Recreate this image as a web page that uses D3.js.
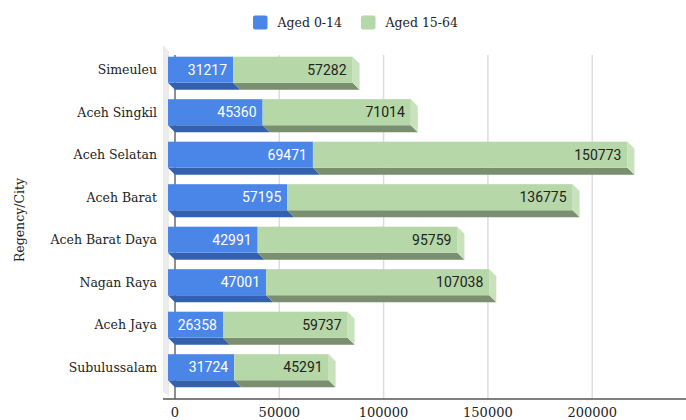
<!DOCTYPE html>
<html>
<head>
<meta charset="utf-8">
<script src="https://cdn.jsdelivr.net/npm/d3@7"></script>
<style>
  html, body { margin: 0; padding: 0; background: #fff; }
  svg { display: block; }
</style>
</head>
<body>
<svg id="chart" width="686" height="420"></svg>
<script>
const categories = ["Simeuleu", "Aceh Singkil", "Aceh Selatan", "Aceh Barat", "Aceh Barat Daya", "Nagan Raya", "Aceh Jaya", "Subulussalam"];
const aged0to14 = [31217, 45360, 69471, 57195, 42991, 47001, 26358, 31724];
const aged15to64 = [57282, 71014, 150773, 136775, 95759, 107038, 59737, 45291];
const seriesNames = ["Aged 0-14", "Aged 15-64"];
const xTicks = [0, 50000, 100000, 150000, 200000];

const W = 686, H = 420;
const svg = d3.select("#chart");
const serif = "'DejaVu Serif', Georgia, serif";
const sans = "Roboto, Arial, sans-serif";
const D = 7; // 3D depth offset

const colors = [
  { front: "#4a86e8", bottom: "#3461ad", side: "#6b9bec", label: "#ffffff" },
  { front: "#b6d7a8", bottom: "#7a8f6f", side: "#c8e3bc", label: "#222222" }
];

const x = d3.scaleLinear().domain([0, 50000]).range([175, 279.3]);
const y = d3.scaleBand().domain(categories).range([40.2, 396.7]).padding(0.388);
const axisY = 399;

// side wall
svg.append("polygon")
  .attr("points", [[163, 45], [169, 51], [169, 396], [163, 392]].map(p => p.join(",")).join(" "))
  .attr("fill", "#ebebeb");

// gridlines
svg.append("g").selectAll("line").data(xTicks.filter(t => t > 0)).join("line")
  .attr("x1", d => x(d)).attr("x2", d => x(d))
  .attr("y1", 55).attr("y2", axisY)
  .attr("stroke", "#dcdcdc").attr("stroke-width", 1.5);

// zero line
svg.append("line")
  .attr("x1", x(0)).attr("x2", x(0)).attr("y1", 55).attr("y2", axisY)
  .attr("stroke", "#444").attr("stroke-width", 1.2);

// bars
const rows = categories.map((c, i) => {
  const v = [aged0to14[i], aged15to64[i]];
  return { cat: c, segs: [
    { s: 0, x0: 0, x1: v[0], v: v[0] },
    { s: 1, x0: v[0], x1: v[0] + v[1], v: v[1] }
  ]};
});

const bh = y.bandwidth();
const gBars = svg.append("g");
rows.forEach(r => {
  const yt = y(r.cat);
  const g = gBars.append("g");
  r.segs.forEach(sg => {
    const a = x(sg.x0), b = x(sg.x1);
    g.append("polygon")
      .attr("points", [[a - D, yt + bh], [b - D, yt + bh], [b, yt + bh + D], [a, yt + bh + D]].map(p => p.join(",")).join(" "))
      .attr("fill", colors[sg.s].bottom);
  });
  const last = r.segs[1];
  const e = x(last.x1);
  g.append("polygon")
    .attr("points", [[e - D, yt], [e, yt + D], [e, yt + bh + D], [e - D, yt + bh]].map(p => p.join(",")).join(" "))
    .attr("fill", colors[1].side);
  r.segs.forEach(sg => {
    const a = x(sg.x0), b = x(sg.x1);
    g.append("rect")
      .attr("x", a - D).attr("y", yt)
      .attr("width", b - a).attr("height", bh)
      .attr("fill", colors[sg.s].front);
    g.append("text")
      .attr("x", b - D - 6).attr("y", yt + bh / 2)
      .attr("dy", "0.36em")
      .attr("text-anchor", "end")
      .attr("font-family", sans).attr("font-size", 14)
      .attr("fill", colors[sg.s].label)
      .text(sg.v);
  });
});

// axis line
svg.append("line")
  .attr("x1", 163).attr("x2", W).attr("y1", axisY).attr("y2", axisY)
  .attr("stroke", "#555").attr("stroke-width", 1.5);

// x tick labels
svg.append("g").selectAll("text").data(xTicks).join("text")
  .attr("x", d => x(d)).attr("y", 417)
  .attr("text-anchor", "middle")
  .attr("font-family", serif).attr("font-size", 13)
  .attr("fill", "#222")
  .text(d => d);

// category labels
svg.append("g").selectAll("text").data(categories).join("text")
  .attr("x", 157).attr("y", d => y(d) + bh / 2)
  .attr("dy", "0.36em")
  .attr("text-anchor", "end")
  .attr("font-family", serif).attr("font-size", 12.5)
  .attr("fill", "#222")
  .text(d => d);

// y axis title
svg.append("text")
  .attr("transform", "translate(24,220) rotate(-90)")
  .attr("text-anchor", "middle")
  .attr("font-family", serif).attr("font-size", 12.5)
  .attr("fill", "#222")
  .text("Regency/City");

// legend
const legendItems = [
  { name: seriesNames[0], color: colors[0].front, x: 253 },
  { name: seriesNames[1], color: colors[1].front, x: 361 }
];
const lg = svg.append("g");
legendItems.forEach(it => {
  lg.append("rect").attr("x", it.x).attr("y", 15.5).attr("width", 14.5).attr("height", 14)
    .attr("rx", 2).attr("fill", it.color);
  lg.append("text").attr("x", it.x + 24.5).attr("y", 27)
    .attr("font-family", serif).attr("font-size", 12.5)
    .attr("fill", "#222").text(it.name);
});
</script>
</body>
</html>
